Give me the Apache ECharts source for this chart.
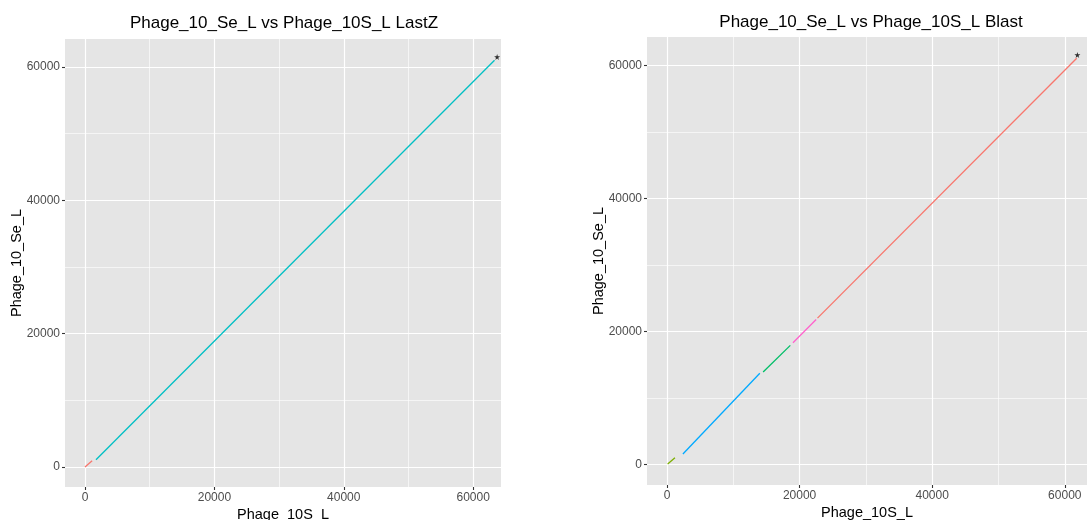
<!DOCTYPE html>
<html>
<head>
<meta charset="utf-8">
<script src="https://cdn.jsdelivr.net/npm/echarts@6/dist/echarts.min.js"></script>
<style>html,body{margin:0;padding:0;background:#fff;}#chart{width:1087px;height:520px;}</style>
</head>
<body>
<div id="chart"></div>
<script>
// ---- data ----
const titles = ['Phage_10_Se_L vs Phage_10S_L LastZ', 'Phage_10_Se_L vs Phage_10S_L Blast'];
const xTitle = 'Phage_10S_L';
const yTitle = 'Phage_10_Se_L';
const majorTicks = [0, 20000, 40000, 60000];
const minorTicks = [10000, 30000, 50000];

// LastZ segments: [x1, y1, x2, y2]
const lastzSegments = [
  [0, 0, 1100, 950],
  [1700, 1100, 63300, 61000]
];
const lastzEnd = [63700, 61500];

// Blast segments: [x1, y1, x2, y2]
const blastSegments = [
  [100, 50, 1200, 1000],
  [4300, 8000, 4360, 8040],
  [2080, 1280, 2140, 1320],
  [2400, 1550, 14000, 13700],
  [14500, 13900, 18600, 17900],
  [19000, 18300, 22500, 21800],
  [22700, 22000, 61800, 61100],
  [28780, 28340, 28860, 28400]
];
const blastEnd = [61900, 61600];

// ---- styles ----
const lastzColors = ['#F8766D', '#00BFC4'];
const blastColors = ['#7CAE00', '#CD9600', '#00BFC4', '#00A9FF', '#00BE67', '#FF61CC', '#F8766D', '#C77CFF'];

const layouts = [
  {left: 65, top: 39, width: 436, height: 448, xmin: -3090, xmax: 64300, ymin: -3000, ymax: 64200, titleX: 279, titleY: 10, nameGapX: 20},
  {left: 647, top: 37, width: 440, height: 448, xmin: -3017, xmax: 63350, ymin: -3110, ymax: 64300, titleX: 866, titleY: 9, nameGapX: 20}
];

const fmt = v => String(v);
const xAxes = [], yAxes = [], grids = [], series = [];
layouts.forEach((L, gi) => {
  grids.push({left: L.left, top: L.top, width: L.width, height: L.height, show: true,
    backgroundColor: '#E5E5E5', borderWidth: 0, containLabel: false, outerBoundsMode: 'none'});
  const common = {type: 'value', gridIndex: gi, axisLine: {show: false, onZero: false}};
  xAxes.push(Object.assign({}, common, {
    min: L.xmin, max: L.xmax, position: 'bottom',
    axisTick: {show: true, length: 3, lineStyle: {color: '#333', width: 1.1}, customValues: majorTicks},
    axisLabel: {customValues: majorTicks, formatter: fmt, color: '#4D4D4D', fontSize: 12, margin: 5, fontFamily: 'Liberation Sans'},
    splitLine: {show: true, lineStyle: {color: '#FFFFFF', width: 1.2}},
    name: xTitle, nameLocation: 'middle', nameGap: L.nameGapX, nameMoveOverlap: false,
    nameTextStyle: {fontSize: 14.5, color: '#000', fontFamily: 'Liberation Sans'}
  }));
  xAxes.push(Object.assign({}, common, {
    min: L.xmin, max: L.xmax, position: 'bottom',
    axisTick: {show: false, customValues: minorTicks},
    axisLabel: {show: false, customValues: minorTicks},
    splitLine: {show: true, lineStyle: {color: '#FFFFFF', width: 0.6}}
  }));
  yAxes.push(Object.assign({}, common, {
    min: L.ymin, max: L.ymax, position: 'left',
    axisTick: {show: true, length: 3, lineStyle: {color: '#333', width: 1.1}, customValues: majorTicks},
    axisLabel: {customValues: majorTicks, formatter: fmt, color: '#4D4D4D', fontSize: 12, margin: 5, fontFamily: 'Liberation Sans'},
    splitLine: {show: true, lineStyle: {color: '#FFFFFF', width: 1.2}},
    name: yTitle, nameLocation: 'middle', nameGap: 41, nameMoveOverlap: false,
    nameTextStyle: {fontSize: 14.5, color: '#000', fontFamily: 'Liberation Sans'}
  }));
  yAxes.push(Object.assign({}, common, {
    min: L.ymin, max: L.ymax, position: 'left',
    axisTick: {show: false, customValues: minorTicks},
    axisLabel: {show: false, customValues: minorTicks},
    splitLine: {show: true, lineStyle: {color: '#FFFFFF', width: 0.6}}
  }));
});

function addSegments(segs, colors, endPt, gi) {
  segs.forEach((s, i) => {
    series.push({
      type: 'line', xAxisIndex: gi * 2, yAxisIndex: gi * 2,
      data: [[s[0], s[1]], [s[2], s[3]]],
      showSymbol: false, silent: true, animation: false,
      lineStyle: {color: colors[i], width: 1.3}
    });
  });
  series.push({
    type: 'scatter', xAxisIndex: gi * 2, yAxisIndex: gi * 2,
    data: [endPt], symbol: 'path://M50,0 L61,35 L98,35 L68,57 L79,91 L50,70 L21,91 L32,57 L2,35 L39,35 Z',
    symbolSize: 6, itemStyle: {color: '#000'}, animation: false, silent: true
  });
}
addSegments(lastzSegments, lastzColors, lastzEnd, 0);
addSegments(blastSegments, blastColors, blastEnd, 1);

const chart = echarts.init(document.getElementById('chart'), null, {renderer: 'canvas'});
chart.setOption({
  backgroundColor: '#FFFFFF',
  animation: false,
  title: layouts.map((L, i) => ({
    text: titles[i], left: L.titleX, top: L.titleY, textAlign: 'center',
    textStyle: {fontSize: 17, fontWeight: 'normal', color: '#000', fontFamily: 'Liberation Sans'}
  })),
  grid: grids,
  xAxis: xAxes,
  yAxis: yAxes,
  series: series
});
</script>
</body>
</html>
